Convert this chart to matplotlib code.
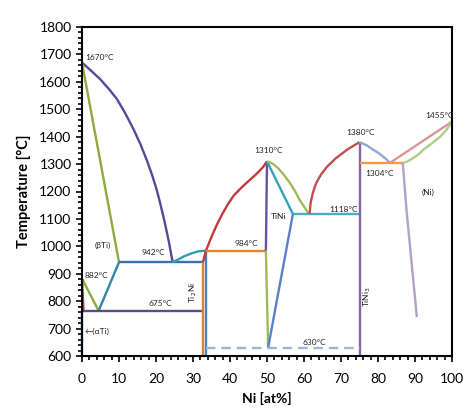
import matplotlib
matplotlib.use("Agg")
import matplotlib.pyplot as plt
from matplotlib.ticker import MultipleLocator

plt.rcParams['font.family'] = ['Lato', 'DejaVu Sans']

# ---- data (Ni at%, Temperature °C) ----
liq_ti_x = [0, 2.5, 4.9, 7.2, 9.4, 11.7, 13.9, 15.8, 17.5, 18.9, 20.2, 21.3, 22.4, 23.5, 24.5]
liq_ti_t = [1670, 1640, 1610, 1575, 1538, 1485, 1428, 1372, 1315, 1262, 1206, 1148, 1085, 1015, 942]
sol_ti_x = [0, 10]
sol_ti_t = [1670, 942]
transus_a_x = [0, 4.5]
transus_a_t = [882, 765]
transus_b_x = [4.5, 10]
transus_b_t = [765, 942]
red_ti_x = [0, 0.4]
red_ti_t = [882, 765]
alpha_x = [0, 0]
alpha_t = [765, 600]
eut942_x = [10, 32.7]
eut942_t = [942, 942]
eut765_x = [0, 32.7]
eut765_t = [765, 765]
liq_t2_x = [24.5, 26, 27.5, 29.5, 31.5, 33.3]
liq_t2_t = [942, 952, 963, 974, 982, 984]
ti2ni_org_x = [32.7, 32.7]
ti2ni_org_t = [942, 600]
ti2ni_blu_x = [33.5, 33.5]
ti2ni_blu_t = [984, 600]
red_step_x = [32.7, 33.5]
red_step_t = [942, 984]
liq_tini_x = [33.5, 35, 36.5, 38, 39.5, 41, 43, 45, 47, 49, 50]
liq_tini_t = [984, 1035, 1080, 1120, 1155, 1185, 1213, 1238, 1262, 1290, 1310]
per984_x = [33.5, 49.7]
per984_t = [984, 984]
tini_l_top_x = [50, 49.7]
tini_l_top_t = [1310, 984]
tini_l_bot_x = [49.7, 50.3]
tini_l_bot_t = [984, 630]
tini_r_bot_x = [50.3, 57]
tini_r_bot_t = [630, 1118]
tini_r_top_x = [50, 57]
tini_r_top_t = [1310, 1118]
liq_tini_r_x = [50, 51.5, 53, 54.5, 56.2, 57.5, 58.8, 60, 61.3]
liq_tini_r_t = [1310, 1302, 1285, 1262, 1231, 1203, 1170, 1145, 1118]
eut1118_x = [57, 75]
eut1118_t = [1118, 1118]
liq_tini3_x = [61.5, 61.8, 62.4, 63.2, 64.5, 66.2, 68.5, 71.6, 73.5, 75]
liq_tini3_t = [1118, 1160, 1195, 1228, 1260, 1290, 1320, 1352, 1368, 1380]
tini3_x = [75, 75]
tini3_t = [1380, 600]
dash630_x = [33.5, 75]
dash630_t = [630, 630]
liq_ni_a_x = [75, 77, 78.7, 80.2, 81.4, 82.4, 83.2]
liq_ni_a_t = [1380, 1368, 1352, 1340, 1327, 1316, 1304]
eut1304_x = [75, 86.7]
eut1304_t = [1304, 1304]
liq_ni_b_x = [83.2, 100]
liq_ni_b_t = [1304, 1455]
sol_ni_x = [86.7, 88, 89.5, 91, 92.2, 94.5, 96.8, 98.5, 100]
sol_ni_t = [1304, 1310, 1322, 1336, 1352, 1375, 1400, 1425, 1455]
solv_ni_x = [86.7, 87.7, 90.5]
solv_ni_t = [1304, 1133, 742]

lines = [
    (liq_ti_x, liq_ti_t, "#58489a", '-'),
    (sol_ti_x, sol_ti_t, "#8aac3e", '-'),
    (transus_a_x, transus_a_t, "#8aac3e", '-'),
    (transus_b_x, transus_b_t, "#2f86a6", '-'),
    (red_ti_x, red_ti_t, "#c0393b", '-'),
    (alpha_x, alpha_t, "#3f73b8", '-'),
    (eut942_x, eut942_t, "#3a6fb3", '-'),
    (eut765_x, eut765_t, "#5b4a8e", '-'),
    (liq_t2_x, liq_t2_t, "#2a9fb0", '-'),
    (ti2ni_org_x, ti2ni_org_t, "#e3812b", '-'),
    (ti2ni_blu_x, ti2ni_blu_t, "#4a7fc1", '-'),
    (red_step_x, red_step_t, "#c0393b", '-'),
    (liq_tini_x, liq_tini_t, "#c0393b", '-'),
    (per984_x, per984_t, "#e8822a", '-'),
    (tini_l_top_x, tini_l_top_t, "#6a4fa0", '-'),
    (tini_l_bot_x, tini_l_bot_t, "#9bbb59", '-'),
    (tini_r_bot_x, tini_r_bot_t, "#5b80c8", '-'),
    (tini_r_top_x, tini_r_top_t, "#31a2c0", '-'),
    (liq_tini_r_x, liq_tini_r_t, "#9bbb59", '-'),
    (eut1118_x, eut1118_t, "#4bacc6", '-'),
    (liq_tini3_x, liq_tini3_t, "#c0504d", '-'),
    (tini3_x, tini3_t, "#8064a2", '-'),
    (dash630_x, dash630_t, "#93b8d8", '--'),
    (liq_ni_a_x, liq_ni_a_t, "#8fa6d6", '-'),
    (eut1304_x, eut1304_t, "#f79646", '-'),
    (liq_ni_b_x, liq_ni_b_t, "#d99694", '-'),
    (sol_ni_x, sol_ni_t, "#b0cd84", '-'),
    (solv_ni_x, solv_ni_t, "#b3a2c7", '-'),
]

labels = [
    (1.0, 1690, "1670°C", 'left', 0),
    (5.5, 1005, "(βTi)", 'center', 0),
    (19.2, 976, "942°C", 'center', 0),
    (0.8, 895, "882°C", 'left', 0),
    (21.1, 793, "675°C", 'center', 0),
    (0.6, 688, "←(αTi)", 'left', 0),
    (30.2, 830, "Ti$_2$Ni", 'center', 90),
    (44.3, 1012, "984°C", 'center', 0),
    (50.5, 1348, "1310°C", 'center', 0),
    (53.2, 1107, "TiNi", 'center', 0),
    (70.7, 1136, "1118°C", 'center', 0),
    (75.3, 1414, "1380°C", 'center', 0),
    (80.5, 1264, "1304°C", 'center', 0),
    (96.5, 1476, "1455°C", 'center', 0),
    (93.4, 1195, "(Ni)", 'center', 0),
    (77.0, 815, "TiNi$_3$", 'center', 90),
    (62.8, 651, "630°C", 'center', 0),
]

x_ticks = [0, 10, 20, 30, 40, 50, 60, 70, 80, 90, 100]
y_ticks = [600, 700, 800, 900, 1000, 1100, 1200, 1300, 1400, 1500, 1600, 1700, 1800]

fig = plt.figure(figsize=(4.74, 4.13), dpi=100)
ax = fig.add_axes([82/474, 1-356/413, 370/474, 329/413])

for xs, ts, c, ls in lines:
    ax.plot(xs, ts, color=c, lw=1.7, ls=ls, solid_capstyle='butt',
            solid_joinstyle='round',
            dashes=(4, 2.5) if ls == '--' else (None, None), clip_on=False)

for x, t, s, ha, rot in labels:
    ax.text(x, t, s, fontsize=6, ha=ha, va='center', rotation=rot, color='#222222')

ax.set_xlim(0, 100)
ax.set_ylim(600, 1800)
ax.set_xticks(x_ticks)
ax.set_yticks(y_ticks)
ax.xaxis.set_minor_locator(MultipleLocator(2))
ax.yaxis.set_minor_locator(MultipleLocator(20))
ax.tick_params(which='both', direction='out', labelsize=10, width=1.2, colors='black')
ax.tick_params(which='major', length=4)
ax.tick_params(which='minor', length=3)
ax.tick_params(axis='x', pad=8)
for sp in ax.spines.values():
    sp.set_linewidth(1.5)
    sp.set_color('black')

ax.set_xlabel("Ni [at%]", fontsize=10, fontweight='bold', labelpad=5)
ax.set_ylabel("Temperature [°C]", fontsize=10.5, fontweight='bold', labelpad=6)

fig.savefig("out.png", dpi=100)
